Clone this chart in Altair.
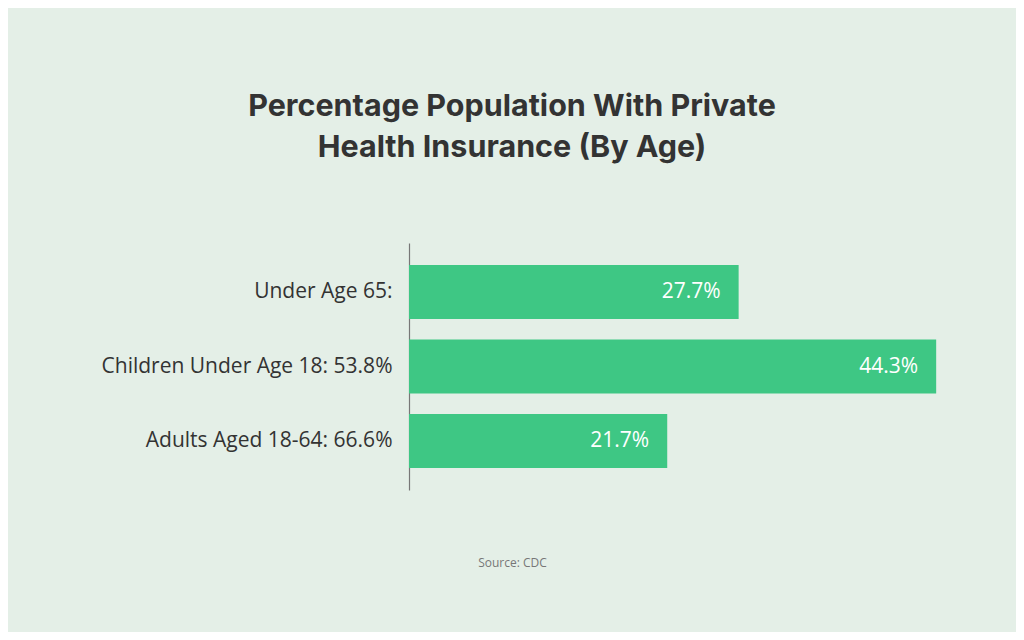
import altair as alt
import pandas as pd

categories = ["Under Age 65:", "Children Under Age 18: 53.8%", "Adults Aged 18-64: 66.6%"]
values = [27.7, 44.3, 21.7]
value_labels = ["27.7%", "44.3%", "21.7%"]

df = pd.DataFrame({"category": categories, "value": values, "label": value_labels})

BG = "#e4efe7"
BAR = "#3ec784"
W = 560
H = 247

base = alt.Chart(df).encode(
    y=alt.Y("category:N", sort=categories,
            scale=alt.Scale(paddingInner=0.275, paddingOuter=0.295),
            axis=alt.Axis(title=None, ticks=False, labelPadding=17,
                          labelFont="Open Sans", labelFontSize=21,
                          labelFontWeight=500,
                          labelColor="#333333", domainColor="#777777",
                          domainWidth=1.2, labelLimit=400)),
)

bars = base.mark_bar(color=BAR, cornerRadius=0).encode(
    x=alt.X("value:Q", scale=alt.Scale(domain=[0, W / 11.9], nice=False),
            axis=alt.Axis(domain=False, labels=False, ticks=False, grid=False,
                          title="Source: CDC", titleFont="Open Sans",
                          titleFontSize=12, titleFontWeight="normal",
                          titleColor="#777777", titleX=103, titleY=72,
                          titleBaseline="middle", titleAlign="center")),
)

text = base.mark_text(align="right", baseline="middle", dx=-18, color="white",
                      font="Open Sans", fontSize=21, fontWeight=500).encode(
    x="value:Q",
    text="label:N",
)

chart = (bars + text).properties(
    width=W,
    height=H,
    background=BG,
    padding={"left": 401, "top": 235, "right": 47, "bottom": 142},
    autosize=alt.AutoSizeParams(type="none"),
    title=alt.TitleParams(
        text=["Percentage Population With Private", "Health Insurance (By Age)"],
        font="Inter", fontSize=30.5, fontWeight=700, color="#333333",
        anchor="middle", frame="group", dx=512 - (409 + W / 2),
        offset=80, lineHeight=41,
    ),
).configure_view(stroke=None)

chart.save("out.html", embed_options={"renderer": "svg", "actions": False})
